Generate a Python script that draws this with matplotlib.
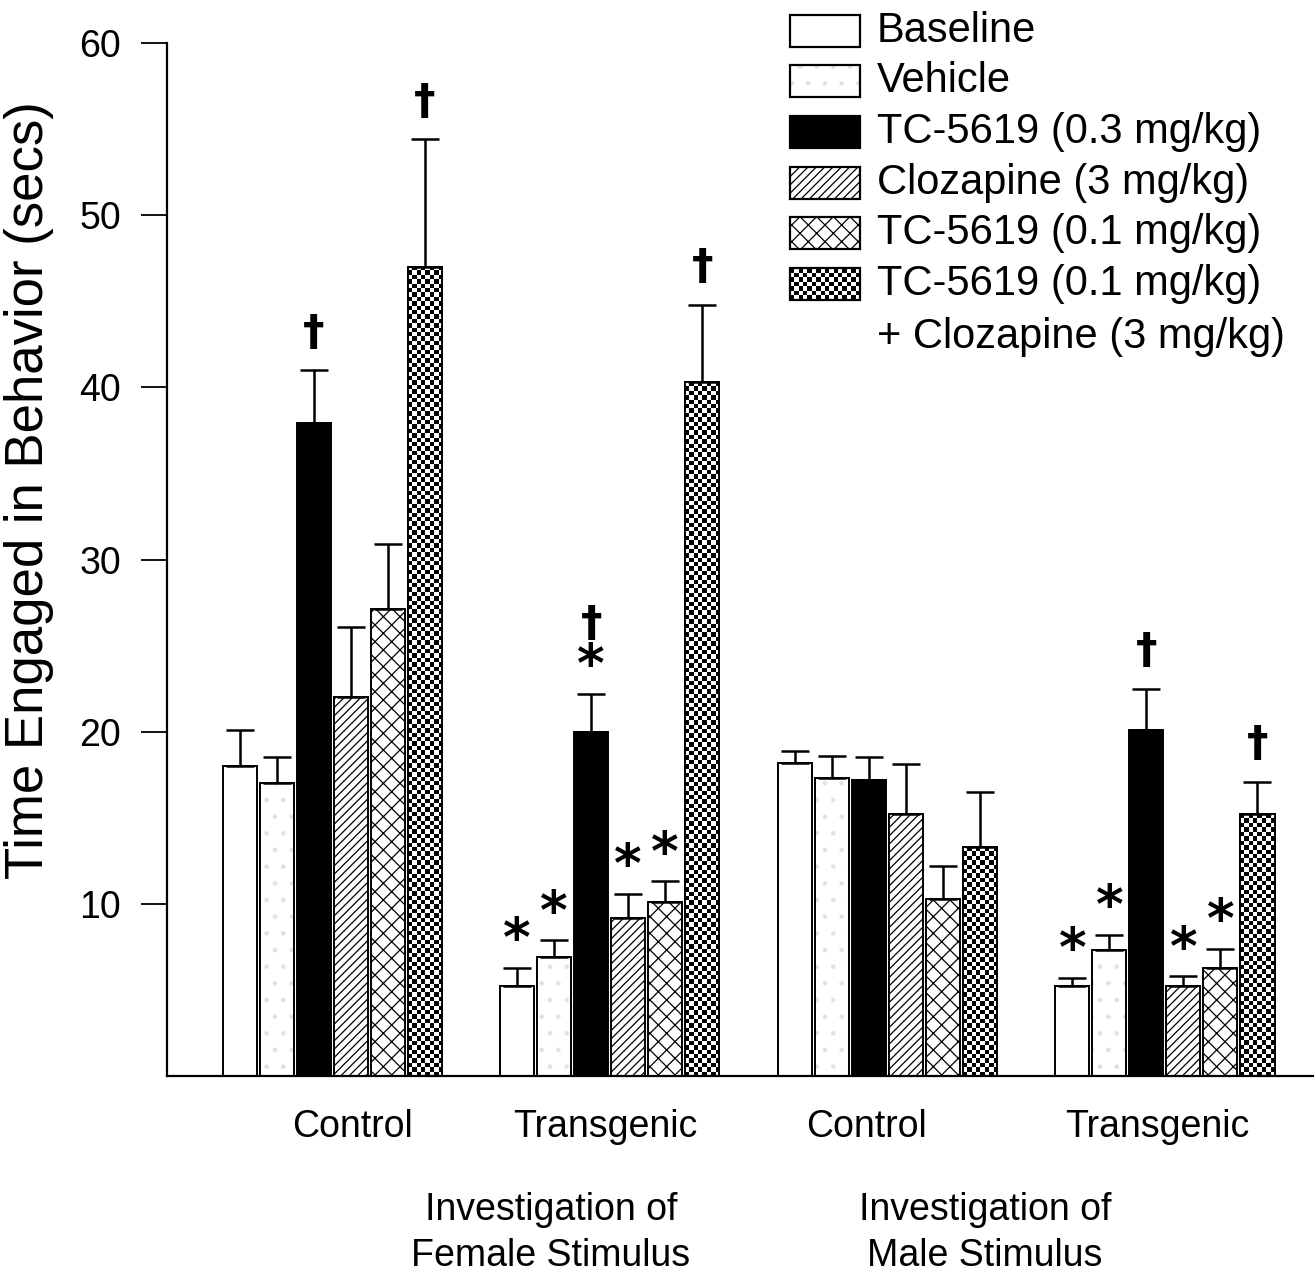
import numpy as np
import matplotlib.pyplot as plt
from matplotlib.patches import Rectangle

plt.rcParams['font.family'] = ['Liberation Sans', 'DejaVu Sans']
plt.rcParams['hatch.linewidth'] = 0.9

groups = ["Control", "Transgenic", "Control", "Transgenic"]
treatments = ["Baseline", "Vehicle", "TC-5619 (0.3 mg/kg)", "Clozapine (3 mg/kg)",
              "TC-5619 (0.1 mg/kg)", "TC-5619 (0.1 mg/kg)"]
combo_extra = "+ Clozapine (3 mg/kg)"
stimulus = ["Investigation of\nFemale Stimulus", "Investigation of\nMale Stimulus"]

# means and SEM (upper bars only)
baseline = [18.0, 5.2, 18.2, 5.2]
baseline_err = [2.1, 1.1, 0.7, 0.5]
vehicle = [17.0, 6.9, 17.3, 7.3]
vehicle_err = [1.5, 1.0, 1.3, 0.9]
tc03 = [37.9, 20.0, 17.2, 20.1]
tc03_err = [3.1, 2.2, 1.3, 2.4]
clozapine = [22.0, 9.2, 15.2, 5.2]
clozapine_err = [4.1, 1.4, 2.9, 0.6]
tc01 = [27.1, 10.1, 10.3, 6.3]
tc01_err = [3.8, 1.2, 1.9, 1.1]
combo = [47.0, 40.3, 13.3, 15.2]
combo_err = [7.4, 4.5, 3.2, 1.9]

# significance marks per bar
baseline_marks = ["", "*", "", "*"]
vehicle_marks = ["", "*", "", "*"]
tc03_marks = ["†", "*†", "", "†"]
clozapine_marks = ["", "*", "", "*"]
tc01_marks = ["", "*", "", "*"]
combo_marks = ["†", "†", "", "†"]

series = [
    (baseline, baseline_err, baseline_marks, "plain"),
    (vehicle, vehicle_err, vehicle_marks, "dots"),
    (tc03, tc03_err, tc03_marks, "black"),
    (clozapine, clozapine_err, clozapine_marks, "diag"),
    (tc01, tc01_err, tc01_marks, "cross"),
    (combo, combo_err, combo_marks, "checker"),
]

W, H = 1315, 1277
fig = plt.figure(figsize=(W / 100, H / 100), dpi=100)
ax = fig.add_axes([167 / W, 1 - 1076 / H, (1313 - 167) / W, (1076 - 43) / H])

group_x = np.arange(len(groups)) * 7.5
width = 0.92
ax.set_xlim(-4.46, 26.5)
ax.set_ylim(0, 60)

DOT = "#e2e2e2"
CELL = 4.4


def checker(nr, nc):
    return (np.add.outer(np.arange(nr), np.arange(nc)) % 2).astype(float)


def draw_bars(a, x, vals, style):
    if style == "plain":
        a.bar(x, vals, width, color="white", edgecolor="black", linewidth=1.4, zorder=2)
    elif style == "dots":
        a.bar(x, vals, width, color="white", edgecolor=DOT, hatch=".",
              linewidth=0, zorder=2)
        a.bar(x, vals, width, color="none", edgecolor="black", linewidth=1.4, zorder=3)
    elif style == "black":
        a.bar(x, vals, width, color="black", edgecolor="black", linewidth=1.4, zorder=2)
    elif style == "diag":
        a.bar(x, vals, width, color="white", edgecolor="black", hatch="////",
              linewidth=1.4, zorder=2)
    elif style == "cross":
        a.bar(x, vals, width, color="white", edgecolor="black", hatch="xx",
              linewidth=1.4, zorder=2)
    elif style == "checker":
        bars = a.bar(x, vals, width, color="white", edgecolor="black", linewidth=1.4, zorder=2)
        for b in bars:
            x0, y0 = b.get_x(), b.get_y()
            x1, y1 = x0 + b.get_width(), y0 + b.get_height()
            p0 = a.transData.transform((x0, y0))
            p1 = a.transData.transform((x1, y1))
            nc = max(1, int(round(abs(p1[0] - p0[0]) / CELL)))
            nr = max(1, int(round(abs(p1[1] - p0[1]) / CELL)))
            im = a.imshow(checker(nr, nc), cmap="gray", extent=(x0, x1, y0, y1),
                          interpolation="nearest", aspect="auto", zorder=2.5,
                          origin="lower")
            im.set_clip_path(b)
        a.bar(x, vals, width, color="none", edgecolor="black", linewidth=1.4, zorder=3)


for i, (vals, errs, marks, style) in enumerate(series):
    x = group_x + (i - 2.5) * 1.0
    draw_bars(ax, x, vals, style)
    ax.errorbar(x, vals, yerr=[np.zeros(len(vals)), errs], fmt="none", ecolor="black",
                elinewidth=1.8, capsize=10, capthick=1.8, zorder=4)
    for xi, v, e, m in zip(x, vals, errs, marks):
        off = 0
        for k, ch in enumerate(m):
            if k == 0:
                off = 19 if ch == "*" else 27
            else:
                off += 31
            if ch == "*":
                ax.annotate("*", (xi, v + e), xytext=(0, off), textcoords="offset points",
                            ha="center", va="center", fontsize=38, fontweight="bold",
                            family="DejaVu Sans")
            else:
                ax.annotate("†", (xi, v + e), xytext=(0, off), textcoords="offset points",
                            ha="center", va="center", fontsize=31, fontweight="bold",
                            family="DejaVu Sans")

ax.set_xlim(-4.46, 26.5)
ax.set_ylim(0, 60)

for s in ["top", "right"]:
    ax.spines[s].set_visible(False)
for s in ["left", "bottom"]:
    ax.spines[s].set_linewidth(1.6)

ax.set_yticks([10, 20, 30, 40, 50, 60])
ax.tick_params(axis="y", length=19, width=1.3, pad=14, labelsize=27)

narrow = ["Liberation Sans Narrow", "Liberation Sans"]
label_x = [0.54, 7.38, 14.43, 22.3]
ax.set_xticks(label_x)
ax.set_xticklabels(groups, fontsize=27, family=narrow)
ax.tick_params(axis="x", length=0, pad=24)

fig.text(29 / W, 1 - 490 / H, "Time Engaged in Behavior (secs)", rotation=90,
         ha="center", va="center", fontsize=38)

fig.text(551 / W, 1 - 1233 / H, stimulus[0], ha="center", va="center", fontsize=27,
         family=narrow, linespacing=1.35)
fig.text(985 / W, 1 - 1233 / H, stimulus[1], ha="center", va="center", fontsize=27,
         family=narrow, linespacing=1.35)

# legend drawn in pixel coordinates on an overlay
lax = fig.add_axes([0, 0, 1, 1], zorder=5)
lax.set_xlim(0, W)
lax.set_ylim(H, 0)
lax.axis("off")
lax.patch.set_alpha(0)
row_y = [31, 81, 132, 183, 233, 284]
styles = [s[3] for s in series]
for yc, name, style in zip(row_y, treatments, styles):
    y0 = yc - 16
    if style == "black":
        lax.add_patch(Rectangle((790, y0), 70, 32, facecolor="black", edgecolor="black", lw=1.6))
    elif style == "diag":
        lax.add_patch(Rectangle((790, y0), 70, 32, facecolor="white", edgecolor="black",
                                hatch="////", lw=1.6))
    elif style == "cross":
        lax.add_patch(Rectangle((790, y0), 70, 32, facecolor="white", edgecolor="black",
                                hatch="xx", lw=1.6))
    elif style == "dots":
        lax.add_patch(Rectangle((790, y0), 70, 32, facecolor="white", edgecolor=DOT,
                                hatch=".", lw=0))
        lax.add_patch(Rectangle((790, y0), 70, 32, facecolor="none", edgecolor="black", lw=1.6))
    elif style == "checker":
        lax.imshow(checker(7, 16), cmap="gray", extent=(790, 860, y0 + 32, y0),
                   interpolation="nearest", aspect="auto")
        lax.add_patch(Rectangle((790, y0), 70, 32, facecolor="none", edgecolor="black", lw=1.6))
    else:
        lax.add_patch(Rectangle((790, y0), 70, 32, facecolor="white", edgecolor="black", lw=1.6))
    lax.text(877, yc, name, ha="left", va="center", fontsize=30)
lax.text(877, 337, combo_extra, ha="left", va="center", fontsize=30)
lax.set_xlim(0, W)
lax.set_ylim(H, 0)

fig.savefig("out.png", dpi=100)
